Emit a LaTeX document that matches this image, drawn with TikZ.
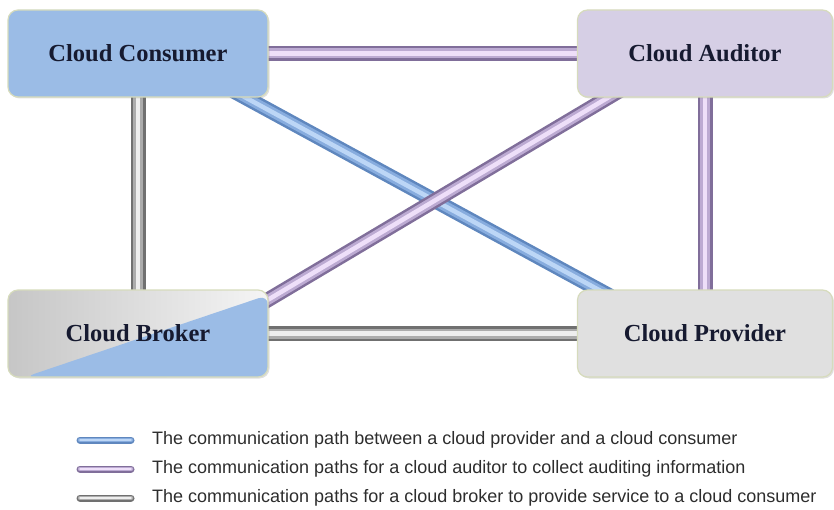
\documentclass[tikz,border=0pt]{standalone}
\usepackage{fontspec}
\setmainfont{Liberation Serif}
\newfontfamily\legendfont{Liberation Sans}
\usetikzlibrary{backgrounds,shadows,calc}

\definecolor{consumerblue}{RGB}{155,188,230}
\definecolor{auditorlilac}{RGB}{214,207,229}
\definecolor{providergray}{RGB}{224,224,224}
\definecolor{brokergray}{RGB}{198,198,198}
\definecolor{boxedge}{RGB}{214,219,188}
\definecolor{boxtext}{RGB}{22,26,48}
\definecolor{bluedark}{RGB}{95,135,190}
\definecolor{bluemid}{RGB}{135,172,222}
\definecolor{bluelight}{RGB}{188,214,246}
\definecolor{lilacdark}{RGB}{128,110,154}
\definecolor{lilacmid}{RGB}{188,170,210}
\definecolor{lilaclight}{RGB}{238,223,249}
\definecolor{graydark}{RGB}{112,112,112}
\definecolor{graymid}{RGB}{172,172,172}
\definecolor{graylight}{RGB}{238,238,238}
\definecolor{legendtext}{RGB}{45,45,45}

\begin{document}
\begin{tikzpicture}[x=1pt,y=-1pt,
  actor/.style={draw=boxedge, line width=1.2pt, rounded corners=10pt,
    minimum height=87pt, inner sep=0pt, text=boxtext,
    font=\fontsize{24.5}{28}\selectfont\bfseries,
    drop shadow={shadow xshift=1.5pt, shadow yshift=-1.5pt, opacity=0.25}},
  leftbox/.style={actor, minimum width=260pt},
  rightbox/.style={actor, minimum width=255pt},
  tube/.style={draw=#1dark, line width=15pt,
    postaction={draw=#1mid, line width=10pt},
    postaction={draw=#1light, line width=4.5pt}},
  keyline/.style={draw=#1dark, line width=7pt, line cap=round,
    postaction={draw=#1mid, line width=4.5pt, line cap=round},
    postaction={draw=#1light, line width=1.8pt, line cap=round}},
  keytext/.style={anchor=west, inner sep=0pt, text=legendtext,
    font=\legendfont\fontsize{18}{20}\selectfont}
]
\useasboundingbox (0,0) rectangle (834,510);

% the four parties
\node[leftbox, fill=consumerblue] (cc) at (138,53.5) {Cloud Consumer};
\node[rightbox, fill=auditorlilac] (ca) at (705,53.5) {Cloud Auditor};
\node[leftbox,
  path picture={
    \shade[left color=brokergray, right color=white!96!black]
      (path picture bounding box.south west) rectangle (path picture bounding box.north east);
    \fill[consumerblue] ([xshift=17pt]path picture bounding box.south west)
      -- ([yshift=-5pt]path picture bounding box.north east)
      -- (path picture bounding box.south east) -- cycle;
  }] (cb) at (138,333.5) {Cloud Broker};
\node[rightbox, fill=providergray] (cp) at (705,333.5) {Cloud Provider};

% communication paths, passing under the boxes
\begin{scope}[on background layer]
  \draw[tube=lilac] (cc.center) -- (ca.center);
  \draw[tube=gray] (cb.center) -- (cp.center);
  \draw[tube=gray] (cc.center) -- (cb.center);
  \draw[tube=lilac] (ca.center) -- (cp.center);
  % the diagonals run a little way into the boxes so their ends stay hidden
  \coordinate (b1) at ([xshift=-23pt]cc.south east);
  \coordinate (b2) at ([xshift=21pt]cp.north west);
  \draw[tube=blue] ($(b1)!-14pt!(b2)$) -- ($(b2)!-14pt!(b1)$);
  \coordinate (l1) at ([yshift=-10pt]cb.north east);
  \coordinate (l2) at ([xshift=-97pt]ca.south);
  \draw[tube=lilac] ($(l1)!-14pt!(l2)$) -- ($(l2)!-14pt!(l1)$);
\end{scope}

% key
\coordinate (k1a) at (80,440);  \coordinate (k1b) at (131,440);
\coordinate (k2a) at (80,469);  \coordinate (k2b) at (131,469);
\coordinate (k3a) at (80,498);  \coordinate (k3b) at (131,498);
\draw[keyline=blue] (k1a) -- (k1b);
\draw[keyline=lilac] (k2a) -- (k2b);
\draw[keyline=gray] (k3a) -- (k3b);
\node[keytext] (k1) at (152,440) {The communication path between a cloud provider and a cloud consumer};
\node[keytext] (k2) at (152,469) {The communication paths for a cloud auditor to collect auditing information};
\node[keytext] (k3) at (152,498) {The communication paths for a cloud broker to provide service to a cloud consumer};
\end{tikzpicture}
\end{document}
